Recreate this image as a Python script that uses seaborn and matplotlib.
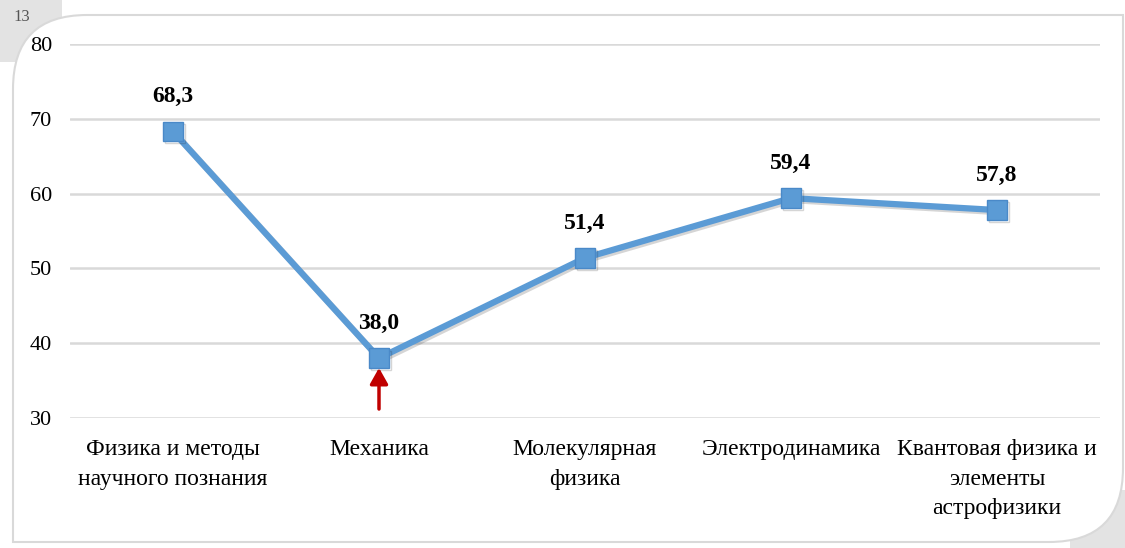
import numpy as np
import pandas as pd
import matplotlib
matplotlib.use("Agg")
import matplotlib.pyplot as plt
import seaborn as sns
from matplotlib.path import Path
from matplotlib.patches import PathPatch, Rectangle
import matplotlib.patheffects as pe

categories = ["Физика и методы\nнаучного познания", "Механика",
              "Молекулярная\nфизика", "Электродинамика",
              "Квантовая физика и\nэлементы\nастрофизики"]
values = [68.3, 38.0, 51.4, 59.4, 57.8]
value_labels = ["68,3", "38,0", "51,4", "59,4", "57,8"]
y_ticks = [30, 40, 50, 60, 70, 80]
highlight_index = 1
page_number = "13"

sns.set_theme(style="white")
plt.rcParams["font.family"] = ["Liberation Serif", "DejaVu Serif"]

W, H = 1125, 548
fig = plt.figure(figsize=(W / 100, H / 100), dpi=100)
fig.patch.set_facecolor("white")

def fx(x):
    return x / W

def fy(y):
    return 1 - y / H

# gray corner shading behind the frame
for (x0, y0, w, h) in [(0, 0, 62, 62), (1070, 490, 55, 58)]:
    fig.patches.append(Rectangle((fx(x0), fy(y0 + h)), w / W, h / H,
                                 transform=fig.transFigure, facecolor="#e3e3e3",
                                 edgecolor="none", zorder=0))

# rounded frame (top-left and bottom-right rounded)
L, R, T, B, r = 13, 1123, 15, 542, 74
verts = [
    (L, B), (L, T + r), (L, T), (L + r, T),
    (R, T), (R, B - r), (R, B), (R - r, B), (L, B), (L, B)
]
codes = [Path.MOVETO, Path.LINETO, Path.CURVE3, Path.CURVE3,
         Path.LINETO, Path.LINETO, Path.CURVE3, Path.CURVE3, Path.LINETO, Path.CLOSEPOLY]
verts = [(fx(x), fy(y)) for x, y in verts]
frame = PathPatch(Path(verts, codes), transform=fig.transFigure,
                  facecolor="white", edgecolor="#d9d9d9", linewidth=1.5, zorder=1)
fig.patches.append(frame)

fig.text(fx(13), fy(17), page_number, fontsize=12, color="#555555",
         ha="left", va="center", zorder=3)

ax = fig.add_axes([fx(70), fy(418), (1100 - 70) / W, (418 - 44) / H])
ax.set_facecolor("none")
ax.set_zorder(2)

x = np.arange(len(categories))
df = pd.DataFrame({"x": x, "y": values})
sns.lineplot(data=df, x="x", y="y", ax=ax, color="#5B9BD5", linewidth=4.5,
             marker="s", markersize=14, markerfacecolor="#5B9BD5",
             markeredgecolor="#4A89C8", markeredgewidth=1,
             path_effects=[pe.SimpleLineShadow(offset=(1.5, -1.5), alpha=0.18), pe.Normal()],
             zorder=3)

for xi, v, lab in zip(x, values, value_labels):
    ax.annotate(lab, (xi, v), xytext=(0, 25), textcoords="offset points",
                ha="center", va="center", fontsize=17, fontweight="bold",
                color="black")

# red arrow pointing at highlighted marker
ax.annotate("", xy=(x[highlight_index], values[highlight_index] - 1.3),
            xytext=(x[highlight_index], 31.2),
            arrowprops=dict(arrowstyle="-|>,head_length=0.8,head_width=0.45",
                            color="#C00000", lw=2.5, shrinkA=0, shrinkB=0),
            zorder=4)

ax.set_xlim(-0.5, len(categories) - 0.5)
ax.set_ylim(y_ticks[0], y_ticks[-1])
ax.set_yticks(y_ticks)
ax.set_xticks(x)
ax.set_xticklabels(categories, linespacing=1.55, fontsize=17)
ax.tick_params(axis="y", length=0, labelsize=16, colors="black", pad=13)
ax.tick_params(axis="x", length=0, colors="black", pad=15)
ax.yaxis.grid(True, color="#d9d9d9", linewidth=1.8)
ax.xaxis.grid(False)
for s in ax.spines.values():
    s.set_visible(False)
ax.set_xlabel("")
ax.set_ylabel("")

fig.savefig("out.png", dpi=100)
